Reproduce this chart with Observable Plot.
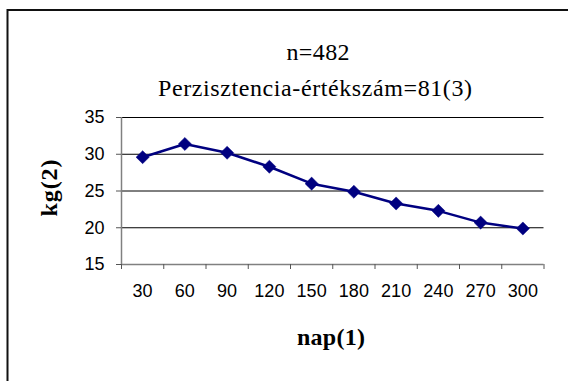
<!DOCTYPE html>
<html>
<head>
<meta charset="utf-8">
<script src="https://cdn.jsdelivr.net/npm/d3@7"></script>
<script src="https://cdn.jsdelivr.net/npm/@observablehq/plot@0.6"></script>
<style>
  html, body { margin: 0; padding: 0; background: #fff; }
  #chart { width: 568px; height: 381px; overflow: hidden; }
</style>
</head>
<body>
<div id="chart"></div>
<script>
const days = [30, 60, 90, 120, 150, 180, 210, 240, 270, 300];
const kg = [29.6, 31.4, 30.2, 28.3, 26.0, 24.9, 23.3, 22.3, 20.7, 19.9];
const yTicks = [15, 20, 25, 30, 35];
const gridValues = [20, 25, 30, 35];
const titleLines = ["n=482", "Perzisztencia-értékszám=81(3)"];
const xLabel = "nap(1)";
const yLabel = "kg(2)";

const step = 30;
const xDomain = [days[0] - step / 2, days[days.length - 1] + step / 2];
const boundaries = d3.range(xDomain[0], xDomain[1] + 1, step);
const data = days.map((d, i) => ({day: d, kg: kg[i]}));

const W = 568, H = 381;
const plot = Plot.plot({
  width: W,
  height: H,
  marginLeft: 121,
  marginRight: 24.5,
  marginTop: 117,
  marginBottom: 117,
  style: {fontFamily: "'Liberation Sans', Arial, sans-serif", background: "transparent"},
  x: {type: "linear", domain: xDomain},
  y: {domain: [15, 35]},
  marks: [
    Plot.ruleY(gridValues, {stroke: "#000", strokeWidth: 1}),
    Plot.ruleY([15], {stroke: "#808080", strokeWidth: 1.5}),
    Plot.ruleX([xDomain[0]], {stroke: "#808080", strokeWidth: 1.5}),
    Plot.axisX({ticks: boundaries, tickFormat: () => "", tickSize: 5, stroke: "#555", label: null}),
    Plot.axisX({ticks: days, tickSize: 0, tickPadding: 20, fontSize: 18, fill: "#000", label: null, tickFormat: d => String(d)}),
    Plot.axisY({ticks: yTicks, tickSize: 5, tickPadding: 12, fontSize: 18, fill: "#000", stroke: "#555", label: null}),
    Plot.line(data, {x: "day", y: "kg", stroke: "#000080", strokeWidth: 2.5}),
    Plot.dot(data, {x: "day", y: "kg", symbol: "diamond2", r: 5.9, fill: "#000080", stroke: "#000080", strokeWidth: 0.5})
  ]
});

const svg = d3.select(plot);
// outer frame of chart area
svg.insert("rect", ":first-child")
  .attr("x", 7.5).attr("y", 10).attr("width", 700).attr("height", 500)
  .attr("fill", "#fff").attr("stroke", "#111").attr("stroke-width", 2);

const serif = "'Liberation Serif', 'Times New Roman', serif";
function addText(x, y, size, bold, len, txt, transform) {
  const t = svg.append("text")
    .attr("text-anchor", "middle")
    .style("font-family", serif)
    .style("font-size", size + "px")
    .style("font-weight", bold ? "bold" : "normal")
    .attr("fill", "#000")
    .attr("textLength", len).attr("lengthAdjust", "spacing")
    .text(txt);
  if (transform) t.attr("transform", transform);
  else t.attr("x", x).attr("y", y);
  return t;
}
addText(318, 60, 24, false, 63, titleLines[0]);
addText(315, 96, 24, false, 314, titleLines[1]);
addText(331, 345, 24, true, 68, xLabel);
addText(0, 0, 24, true, 57, yLabel, "translate(57,188) rotate(-90)");

document.getElementById("chart").appendChild(plot);
</script>
</body>
</html>
